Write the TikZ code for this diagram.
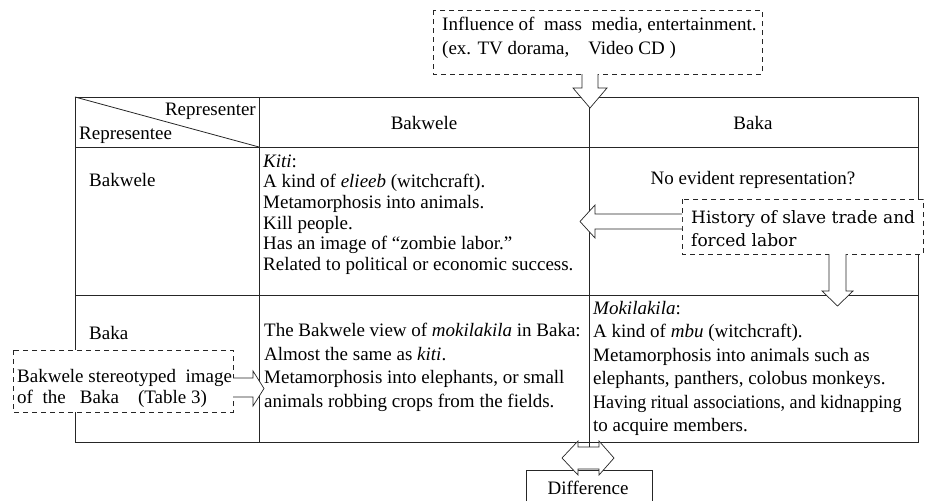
\documentclass[tikz,border=0pt]{standalone}
\usepackage{fontspec}
\setmainfont{Liberation Serif}
\newfontfamily\histfont{DejaVu Serif}
\usepackage{graphicx}
\begin{document}
\begin{tikzpicture}[x=1pt,y=-1pt,
  tbl/.style={draw=black!85, line width=0.8pt},
  dbox/.style={draw=black!85, line width=0.8pt, dash pattern=on 5pt off 4pt, fill=white},
  txt/.style={inner sep=0pt, font=\fontsize{19}{20.7}\selectfont, align=left},
  txtb/.style={inner sep=0pt, font=\fontsize{19}{23.5}\selectfont, align=left},
  blk/.style={draw=black!85, line width=0.7pt},
  blkfill/.style={fill=white}]
\useasboundingbox (0,0) rectangle (925,501);
% table
\draw[tbl] (75,97) rectangle (918,442);
\draw[tbl] (75,147) -- (918,147);
\draw[tbl] (75,295) -- (918,295);
\draw[tbl] (259,97) -- (259,442);
\draw[tbl] (589,97) -- (589,447);
\draw[tbl] (75,97) -- (259,147);
% header texts
\node[txt, anchor=east] (rper) at (256,111) {Representer};
\node[txt, anchor=west] (rpee) at (79,135) {Representee};
\node[txt] (hbakwele) at (424,123) {Bakwele};
\node[txt] (hbaka) at (753,123) {Baka};
\node[txt, anchor=west] (r1) at (89,180) {Bakwele};
\node[txt, anchor=west] (r2) at (89,333) {Baka};
% row 1
\node[txt, anchor=west] (kiti) at (263,214.5) {\textit{Kiti}:\\
A kind of \textit{elieeb} (witchcraft).\\
Metamorphosis into animals.\\
Kill people.\\
Has an image of ``zombie labor.''\\
Related to political or economic success.};
\node[txt] (noev) at (753,180) {No evident representation?};
% row 2
\node[txtb, anchor=west] (bview) at (264,367.5) {The Bakwele view of \textit{mokilakila} in Baka:\\
Almost the same as \textit{kiti}.\\
Metamorphosis into elephants, or small\\
animals robbing crops from the fields.};
\node[txtb, anchor=west] (mok) at (593,368.5) {\textit{Mokilakila}:\\
A kind of \textit{mbu} (witchcraft).\\
Metamorphosis into animals such as\\
elephants, panthers, colobus monkeys.\\
\scalebox{0.95}[1]{Having ritual associations, and kidnapping}\\
to acquire members.};
% dashed boxes
\draw[dbox] (433,10) rectangle (762,74);
\node[txt, anchor=west, font=\fontsize{19}{24}\selectfont] (media) at (442,38) {Influence of\ \ mass\ \ media, entertainment.\\
(ex. TV dorama,\quad Video CD )};
\draw[dbox] (682,199) rectangle (923,254);
\node[inner sep=0pt, anchor=west, align=left, font=\histfont\fontsize{17}{23}\selectfont] (hist) at (691,228.5) {History of slave trade and\\forced labor};
\draw[dbox] (13,350) rectangle (233,412);
\node[txt, anchor=west, font=\fontsize{19}{21}\selectfont] (stereo) at (17,388.5) {Bakwele stereotyped\ \ image\\
of\ \ the\ \ \ Baka\ \ \ \ (Table 3)};
% Difference box
\draw[tbl] (526,501) -- (526,470) -- (652,470) -- (652,501);
\node[txt] (diff) at (588,488) {Difference};
% block arrows
% top down arrow
\fill[blkfill] (582,74) -- (582,88) -- (573,88) -- (590,108) -- (607,88) -- (598,88) -- (598,74) -- cycle;
\draw[blk] (582,74) -- (582,88) -- (573,88) -- (590,108) -- (607,88) -- (598,88) -- (598,74);
% history left arrow
\fill[blkfill] (682,214) -- (595,214) -- (595,205) -- (580,221.5) -- (595,238) -- (595,229) -- (682,229) -- cycle;
\draw[blk] (682,214) -- (595,214) -- (595,205) -- (580,221.5) -- (595,238) -- (595,229) -- (682,229);
% history down arrow
\fill[blkfill] (829,254) -- (829,291) -- (822,291) -- (837.5,306) -- (853,291) -- (846,291) -- (846,254) -- cycle;
\draw[blk] (829,254) -- (829,291) -- (822,291) -- (837.5,306) -- (853,291) -- (846,291) -- (846,254);
% stereotype right arrow
\fill[blkfill] (233,378) -- (253,378) -- (253,371) -- (264,388.5) -- (253,406) -- (253,397) -- (233,397) -- cycle;
\draw[blk] (233,378) -- (253,378) -- (253,371) -- (264,388.5) -- (253,406) -- (253,397) -- (233,397);
% difference double arrow
\draw[blk, fill=white] (578,447) -- (599,447) -- (599,441) -- (614,458) -- (599,475) -- (599,469) -- (578,469) -- (578,475) -- (562,458) -- (578,441) -- cycle;
\end{tikzpicture}
\end{document}
